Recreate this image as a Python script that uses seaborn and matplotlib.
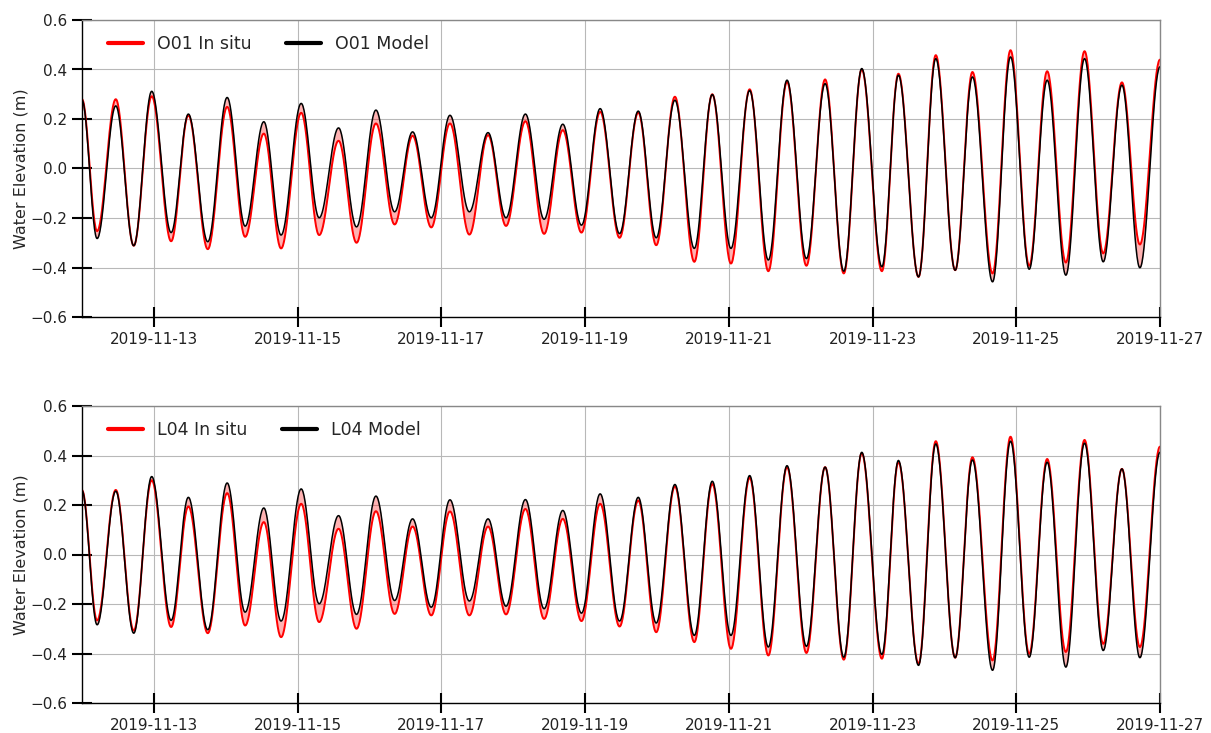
import numpy as np
import pandas as pd
import matplotlib
matplotlib.use("Agg")
import matplotlib.pyplot as plt
import matplotlib.dates as mdates
import seaborn as sns

# Times of successive high / low waters (day of November 2019)
event_day = [12.00, 12.21, 12.47, 12.72, 12.97, 13.24, 13.48, 13.75, 14.02, 14.27,
             14.53, 14.77, 15.05, 15.30, 15.57, 15.82, 16.09, 16.35, 16.60, 16.86,
             17.12, 17.39, 17.65, 17.90, 18.17, 18.43, 18.69, 18.95, 19.21, 19.48,
             19.74, 19.99, 20.25, 20.52, 20.77, 21.03, 21.29, 21.55, 21.81, 22.08,
             22.34, 22.60, 22.85, 23.13, 23.36, 23.64, 23.88, 24.15, 24.39, 24.67,
             24.92, 25.18, 25.43, 25.69, 25.95, 26.21, 26.47, 26.72, 27.00]

# Station O01: observed and modelled high / low water levels (m)
o01_insitu = [0.28, -0.253, 0.28, -0.312, 0.292, -0.294, 0.215, -0.326, 0.249, -0.276,
              0.141, -0.323, 0.225, -0.269, 0.112, -0.300, 0.182, -0.226, 0.132, -0.238,
              0.182, -0.267, 0.135, -0.232, 0.191, -0.264, 0.155, -0.259, 0.229, -0.280,
              0.226, -0.310, 0.290, -0.377, 0.300, -0.384, 0.320, -0.415, 0.350, -0.393,
              0.360, -0.424, 0.400, -0.415, 0.383, -0.438, 0.458, -0.411, 0.390, -0.424,
              0.478, -0.393, 0.393, -0.380, 0.474, -0.343, 0.348, -0.307, 0.440]
o01_model = [0.276, -0.283, 0.253, -0.312, 0.312, -0.259, 0.220, -0.296, 0.287, -0.233,
             0.189, -0.269, 0.263, -0.199, 0.164, -0.236, 0.236, -0.175, 0.148, -0.199,
             0.215, -0.175, 0.145, -0.199, 0.220, -0.205, 0.179, -0.229, 0.242, -0.263,
             0.232, -0.280, 0.276, -0.323, 0.299, -0.323, 0.315, -0.370, 0.357, -0.364,
             0.343, -0.415, 0.404, -0.397, 0.377, -0.438, 0.444, -0.411, 0.370, -0.458,
             0.451, -0.407, 0.357, -0.431, 0.444, -0.377, 0.337, -0.401, 0.411]

# Station L04: observed and modelled high / low water levels (m)
l04_insitu = [0.26, -0.266, 0.261, -0.307, 0.300, -0.293, 0.194, -0.318, 0.248, -0.287,
              0.131, -0.334, 0.205, -0.273, 0.104, -0.300, 0.175, -0.240, 0.113, -0.246,
              0.174, -0.246, 0.113, -0.242, 0.184, -0.260, 0.144, -0.269, 0.205, -0.291,
              0.218, -0.314, 0.275, -0.354, 0.285, -0.381, 0.310, -0.408, 0.353, -0.398,
              0.353, -0.425, 0.409, -0.421, 0.373, -0.441, 0.458, -0.417, 0.393, -0.428,
              0.476, -0.401, 0.386, -0.394, 0.463, -0.361, 0.346, -0.374, 0.436]
l04_model = [0.258, -0.284, 0.256, -0.318, 0.315, -0.266, 0.231, -0.304, 0.289, -0.233,
             0.188, -0.269, 0.265, -0.199, 0.157, -0.242, 0.236, -0.186, 0.144, -0.213,
             0.221, -0.188, 0.144, -0.209, 0.222, -0.219, 0.178, -0.237, 0.245, -0.269,
             0.231, -0.277, 0.283, -0.327, 0.296, -0.327, 0.319, -0.374, 0.359, -0.371,
             0.353, -0.415, 0.413, -0.404, 0.380, -0.448, 0.447, -0.417, 0.382, -0.468,
             0.458, -0.415, 0.373, -0.455, 0.450, -0.388, 0.346, -0.417, 0.413]

stations = [("O01", o01_insitu, o01_model), ("L04", l04_insitu, l04_model)]


def tide_series(day_grid, days, levels):
    """Half-cosine tide curve passing through each high / low water."""
    days = np.asarray(days, float)
    levels = np.asarray(levels, float)
    i = np.clip(np.searchsorted(days, day_grid, side="right") - 1, 0, len(days) - 2)
    frac = (day_grid - days[i]) / (days[i + 1] - days[i])
    return levels[i] + (levels[i + 1] - levels[i]) * (1 - np.cos(np.pi * frac)) / 2


def to_time(day):
    return pd.Timestamp("2019-11-01") + pd.to_timedelta(np.asarray(day) - 1, unit="D")


sns.set_style("white")
plt.rcParams["font.family"] = ["DejaVu Sans"]

W, H = 1211, 733
fig = plt.figure(figsize=(W / 100, H / 100), dpi=100)
rects = [(82, 20, 1160, 317), (82, 406, 1160, 703)]

day_grid = np.arange(12.0, 27.0 + 1e-9, 1 / 144)
time_grid = to_time(day_grid)

for (name, obs, mod), (x0, y0, x1, y1) in zip(stations, rects):
    ax = fig.add_axes([x0 / W, 1 - y1 / H, (x1 - x0) / W, (y1 - y0) / H])
    df = pd.DataFrame({
        "time": time_grid,
        "obs": tide_series(day_grid, event_day, obs),
        "mod": tide_series(day_grid, event_day, mod),
    })
    ax.fill_between(df["time"], df["obs"], df["mod"], color="red", alpha=0.3, lw=0)
    sns.lineplot(data=df, x="time", y="obs", ax=ax, color="red", lw=1.4,
                 label=f"{name} In situ")
    sns.lineplot(data=df, x="time", y="mod", ax=ax, color="black", lw=1.1,
                 label=f"{name} Model")

    ax.set_xlim(to_time(12.0), to_time(27.0))
    ax.set_ylim(-0.6, 0.6)
    ax.set_yticks(np.arange(-0.6, 0.61, 0.2))
    ax.xaxis.set_major_locator(mdates.DayLocator(bymonthday=range(13, 28, 2)))
    ax.xaxis.set_major_formatter(mdates.DateFormatter("%Y-%m-%d"))
    ax.grid(True, color="#b8b8b8", lw=0.8)
    ax.set_xlabel("")
    ax.set_ylabel("Water Elevation (m)", fontsize=11.5, labelpad=1.5)

    ax.tick_params(axis="both", direction="inout", length=14, width=1.5,
                   labelsize=11, color="black", labelcolor="#222222",
                   bottom=True, left=True, top=False, right=False)
    ax.tick_params(axis="x", pad=4)
    for side in ("left", "bottom"):
        ax.spines[side].set_color("black")
        ax.spines[side].set_linewidth(1.0)
    for side in ("top", "right"):
        ax.spines[side].set_color("#888888")
        ax.spines[side].set_linewidth(1.0)

    leg = ax.legend(loc="upper left", bbox_to_anchor=(0.0083, 1.008), ncol=2,
                    frameon=False, fontsize=12.5, handlelength=2.0,
                    columnspacing=2.0, borderaxespad=0.6)
    for h in leg.legend_handles:
        h.set_linewidth(3)

fig.savefig("out.png", dpi=100)
